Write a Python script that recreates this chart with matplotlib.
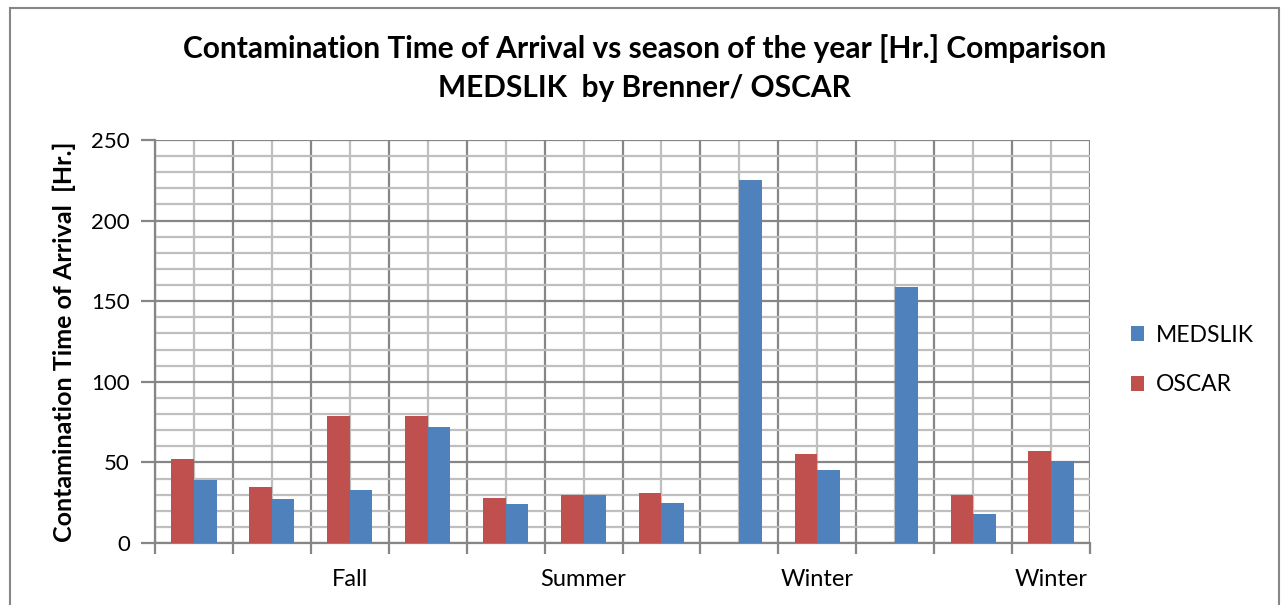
import matplotlib
matplotlib.use("Agg")
import matplotlib.pyplot as plt
import numpy as np
from matplotlib.patches import Rectangle

categories = ['', '', 'Fall', '', '', 'Summer', '', '', 'Winter', '', '', 'Winter']
oscar = [52, 35, 79, 79, 28, 30, 31, 0, 55, 0, 30, 57]
medslik = [39, 27, 33, 72, 24, 30, 25, 225, 45, 159, 18, 51]

plt.rcParams['font.family'] = ['Lato', 'DejaVu Sans']

fig = plt.figure(figsize=(12.84, 6.05), dpi=100)
ax = fig.add_axes([155/1284, 62/605, 935/1284, 403/605])

x = np.arange(len(categories))
w = 0.29
ax.bar(x - w/2, oscar, w, color='#C0504D', label='OSCAR', zorder=3)
ax.bar(x + w/2, medslik, w, color='#4F81BD', label='MEDSLIK', zorder=3)

ax.set_xlim(-0.5, len(categories) - 0.5)
ax.set_ylim(0, 250)
ax.set_yticks(np.arange(0, 251, 50))
ax.set_yticks(np.arange(0, 251, 10), minor=True)
ax.set_xticks(np.arange(len(categories) + 1) - 0.5)
ax.set_xticklabels([])
ax.set_xticks(x, minor=True)
ax.set_xticklabels(categories, minor=True)

ax.grid(which='major', color='#868686', linewidth=1.6, zorder=0)
ax.grid(which='minor', color='#BFBFBF', linewidth=1.6, zorder=0)
ax.tick_params(axis='x', which='major', length=8, width=1.6, color='#868686')
ax.tick_params(axis='x', which='minor', length=0, labelsize=17, pad=19)
ax.tick_params(axis='y', which='major', length=10, width=1.6, color='#868686', labelsize=16, pad=8)
ax.tick_params(axis='y', which='minor', length=0)
for s in ax.spines.values():
    s.set_color('#868686')
    s.set_linewidth(1.6)
ax.spines['top'].set_visible(False)
ax.spines['right'].set_visible(False)

ax.set_ylabel('Contamination Time of Arrival  [Hr.]', fontsize=18, fontweight='bold')
ax.yaxis.set_label_coords(-0.084, 0.5)

fig.text(0.502, 1 - 68/605, 'Contamination Time of Arrival vs season of the year [Hr.] Comparison\nMEDSLIK  by Brenner/ OSCAR',
         ha='center', va='center', fontsize=21.5, fontweight='bold', linespacing=1.45)

h, l = ax.get_legend_handles_labels()
leg = fig.legend([h[1], h[0]], [l[1], l[0]], loc='center left', bbox_to_anchor=(1110/1284, 1 - 360/605),
                 frameon=False, fontsize=16.5, handlelength=0.6, handleheight=0.6, labelspacing=1.25, handletextpad=0.5)

fig.patches.append(Rectangle((9.5/1284, -0.05), 1269/1284, 1.05 - 7.5/605, transform=fig.transFigure,
                             fill=False, edgecolor='#868686', linewidth=1.5))

fig.savefig('out.png', dpi=100)
